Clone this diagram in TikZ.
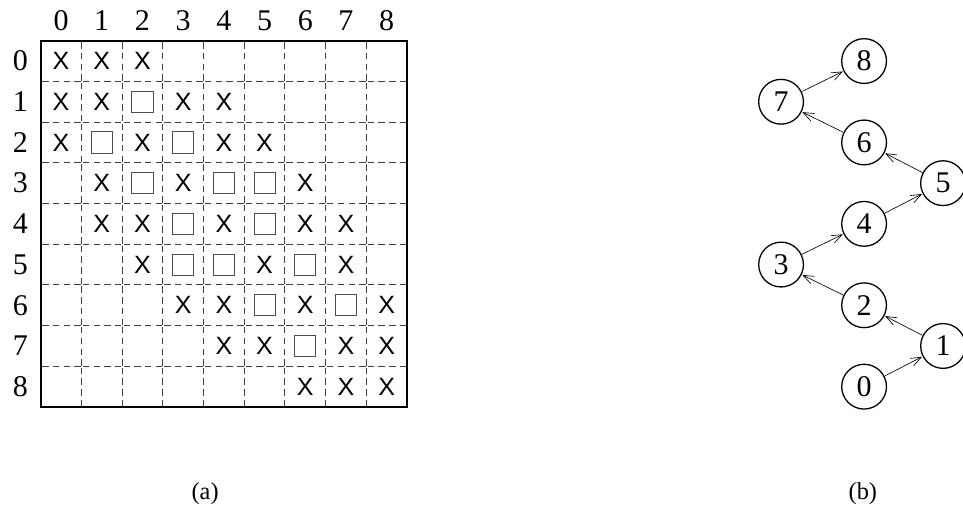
\documentclass[tikz,border=0pt]{standalone}
\usepackage{fontspec}
\setmainfont{Liberation Serif}
\newfontfamily\markfont{Liberation Sans}
\usetikzlibrary{arrows.meta}
\tikzset{
  every node/.style = {font=\fontsize{21}{24}\selectfont},
  gridframe/.style  = {draw=black, line width=1.3pt},
  cellline/.style   = {draw=black!75, line width=0.6pt, dash pattern=on 4.5pt off 3pt, dash phase=-1pt},
  xmark/.style      = {inner sep=0pt, font=\markfont\fontsize{17.5}{20}\selectfont},
  smark/.style      = {draw=black!70, line width=0.6pt, minimum size=0.52cm, inner sep=0pt},
  vertex/.style     = {circle, draw=black, line width=0.9pt, minimum size=1.1cm, inner sep=0pt},
  edgearrow/.style  = {-{Straight Barb[length=2.6mm,width=2mm]}, line width=0.45pt, shorten >=0.4pt},
  caption/.style    = {font=\fontsize{17}{20}\selectfont},
}
\begin{document}
\begin{tikzpicture}
\useasboundingbox (-1.0,1.0) rectangle (22.66,-11.41);

% matrix grid
\foreach \k in {1,...,8}
  \foreach \m in {0,...,8} {
    \draw[cellline] (\k,-\m) -- (\k,-\m-1);
    \draw[cellline] (\m,-\k) -- (\m+1,-\k);
  }
\draw[gridframe] (0,0) rectangle (9,-9);

\foreach \k in {0,...,8} {
  \node (col\k) at (\k+0.5,0.5) {\k};
  \node (row\k) at (-0.5,-\k-0.5) {\k};
}

% entries: column/row
\foreach \c/\r in {0/0,1/0,2/0, 0/1,1/1,3/1,4/1, 0/2,2/2,4/2,5/2,
                   1/3,3/3,6/3, 1/4,2/4,4/4,6/4,7/4, 2/5,5/5,7/5,
                   3/6,4/6,6/6,8/6, 4/7,5/7,7/7,8/7, 6/8,7/8,8/8}
  \node[xmark] (x\c\r) at (\c+0.5,-\r-0.5) {X};
\foreach \c/\r in {2/1, 1/2,3/2, 2/3,4/3,5/3, 3/4,5/4, 3/5,4/5,6/5,
                   5/6,7/6, 6/7}
  \node[smark] (s\c\r) at (\c+0.5,-\r-0.5) {};

% elimination chain
\foreach \i/\x in {0/20.23,1/22.17,2/20.23,3/18.19,4/20.23,5/22.17,6/20.23,7/18.19,8/20.23}
  \node[vertex] (n\i) at (\x,{\i-8.5}) {\i};
\foreach \a/\b in {0/1,1/2,2/3,3/4,4/5,5/6,6/7,7/8}
  \draw[edgearrow] (n\a) -- (n\b);

\node[caption] (capa) at (4.04,-11.12) {(a)};
\node[caption] (capb) at (20.2,-11.12) {(b)};
\end{tikzpicture}
\end{document}
